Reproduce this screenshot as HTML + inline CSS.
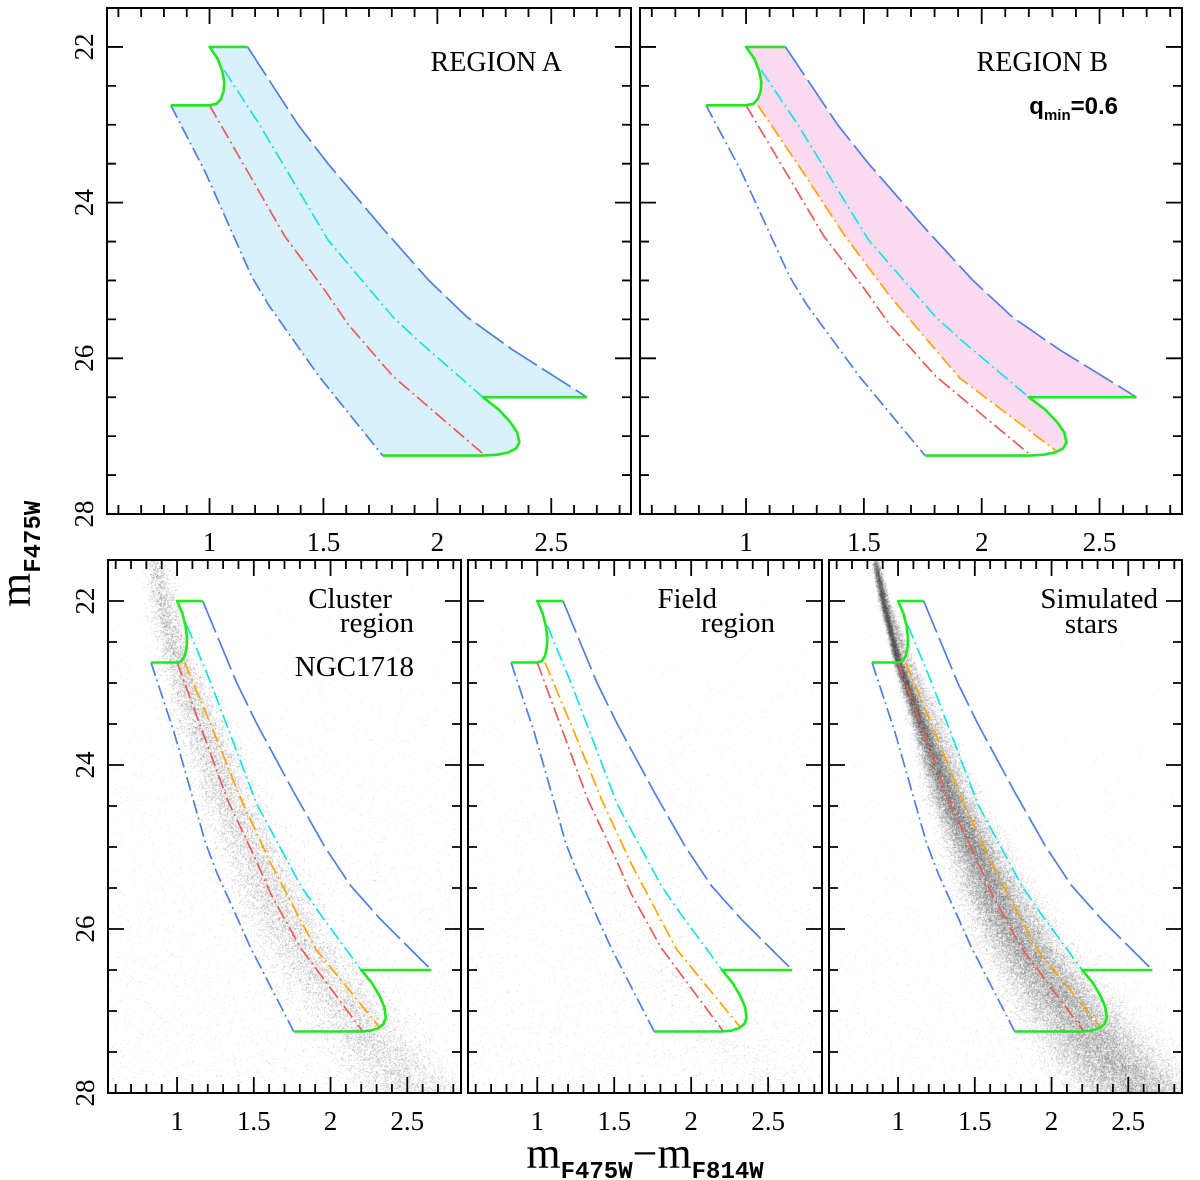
<!DOCTYPE html>
<html><head><meta charset="utf-8"><style>
html,body{margin:0;padding:0;background:#fff;}
#wrap{position:relative;width:1200px;height:1180px;overflow:hidden;}
canvas,svg{position:absolute;left:0;top:0;}
text{font-family:"Liberation Serif",serif;fill:#000;}
</style></head><body>
<div id="wrap">
<canvas id="cv" width="1200" height="1180"></canvas>
<svg id="sv" width="1200" height="1180" xmlns="http://www.w3.org/2000/svg"></svg>
</div>
<script>
// ---- data (colour, magnitude) ----
const xTicksLabels = ["1","1.5","2","2.5"];
const xTickValues = [1,1.5,2,2.5];
const yTickLabels = ["22","24","26","28"];
const yTickValues = [22,24,26,28];
const blueRightC = [1.167,1.389,1.52,1.76,1.963,2.13,2.33,2.657];
const blueRightM = [22.0,23.0,23.5,24.33,25.0,25.47,25.89,26.5];
const blueLeftC = [0.83,0.98,1.185,1.26,1.48,1.76];
const blueLeftM = [22.75,23.6,24.95,25.32,26.23,27.25];
const redC = [1.0,1.167,1.33,1.5,1.61,1.805,2.21];
const redM = [22.75,23.6,24.43,25.1,25.57,26.23,27.25];
const cyanC = [1.065,1.22,1.52,1.805,1.926,2.2];
const cyanM = [22.3,23.0,24.48,25.47,25.8,26.5];
const orangeC = [1.05,1.24,1.42,1.61,1.906,2.32];
const orangeM = [22.75,23.6,24.43,25.2,26.25,27.2];
const hookTopC = [0.83,1.0,1.03,1.05,1.062,1.065,1.055,1.035,1.0,1.167];
const hookTopM = [22.75,22.75,22.73,22.67,22.57,22.45,22.3,22.15,22.0,22.0];
const hookBotC = [1.76,2.2,2.26,2.31,2.345,2.36,2.35,2.32,2.27,2.2,2.657];
const hookBotM = [27.25,27.25,27.24,27.21,27.16,27.08,26.95,26.82,26.66,26.5,26.5];
// star-cloud ridge (cluster sequence)
const ridgeC = [0.85,0.9,0.96,1.0,1.167,1.33,1.5,1.61,1.805,2.21,2.45,2.6];
const ridgeM = [21.5,22.0,22.45,22.75,23.6,24.43,25.1,25.57,26.23,27.25,27.8,28.1];

const XMIN=0.55,XMAX=2.85,YMIN=21.5,YMAX=28;
const panels=[
 {id:"region-a",x:107,y:8,w:524,h:506,fill:"A",orange:false,yl:true},
 {id:"region-b",x:640,y:8,w:542,h:506,fill:"B",orange:true,yl:false},
 {id:"cluster",x:108,y:560,w:353,h:533,orange:true,yl:true,stars:"cluster"},
 {id:"field",x:468,y:560,w:354,h:533,orange:true,yl:false,stars:"field"},
 {id:"simulated",x:829,y:560,w:353,h:533,orange:true,yl:false,stars:"sim"}
];
const NS="http://www.w3.org/2000/svg";
const sv=document.getElementById('sv');
function el(t,a,p){const e=document.createElementNS(NS,t);for(const k in a)e.setAttribute(k,a[k]);(p||sv).appendChild(e);return e;}
function mk(p){return {X:c=>p.x+(c-XMIN)/(XMAX-XMIN)*p.w, Y:m=>p.y+(m-YMIN)/(YMAX-YMIN)*p.h};}
function pts(cs,ms,s){return cs.map((c,i)=>s.X(c).toFixed(1)+","+s.Y(ms[i]).toFixed(1)).join(" ");}
function interp(arrM,arrC,m){
  if(m<=arrM[0]){const k=(arrC[1]-arrC[0])/(arrM[1]-arrM[0]);return arrC[0]+(m-arrM[0])*k;}
  for(let i=1;i<arrM.length;i++){if(m<=arrM[i]){const t=(m-arrM[i-1])/(arrM[i]-arrM[i-1]);return arrC[i-1]+t*(arrC[i]-arrC[i-1]);}}
  const n=arrM.length;const k=(arrC[n-1]-arrC[n-2])/(arrM[n-1]-arrM[n-2]);return arrC[n-1]+(m-arrM[n-1])*k;}

// ---- star clouds (deterministic texture) ----
let seed=12345;
function rnd(){seed|=0;seed=seed+0x6D2B79F5|0;let t=Math.imul(seed^seed>>>15,1|seed);t=t+Math.imul(t^t>>>7,61|t)^t;return((t^t>>>14)>>>0)/4294967296;}
function gauss(){let u=rnd()||1e-9,v=rnd();return Math.sqrt(-2*Math.log(u))*Math.cos(2*Math.PI*v);}
const ctx=document.getElementById('cv').getContext('2d');
function drawStars(p){
  const s=mk(p);ctx.save();ctx.beginPath();ctx.rect(p.x,p.y,p.w,p.h);ctx.clip();
  function dot(c,m,a){ctx.fillStyle="rgba(70,70,70,"+a+")";ctx.fillRect(Math.round(s.X(c)),Math.round(s.Y(m)),1,1);}
  if(p.stars==="cluster"){
    for(let i=0;i<16000;i++){const m=21.5+6.6*Math.pow(rnd(),0.8);const c=interp(ridgeM,ridgeC,m)+gauss()*(0.03+0.022*(m-21.5))+(rnd()<0.2?rnd()*0.12:0);dot(c,m,0.2);}
    for(let i=0;i<2500;i++){const m=21.5+6.5*Math.pow(rnd(),0.4);dot(XMIN+rnd()*(XMAX-XMIN),m,0.16);}
  } else if(p.stars==="field"){
    for(let i=0;i<1800;i++){const m=21.5+6.5*Math.pow(rnd(),0.35);dot(XMIN+rnd()*(XMAX-XMIN),m,0.16);}
    for(let i=0;i<1000;i++){const m=24+4*Math.pow(rnd(),0.5);const c=interp(ridgeM,ridgeC,m)+gauss()*0.2;dot(c,m,0.16);}
  } else {
    for(let i=0;i<70000;i++){const m=21.5+6.6*Math.pow(rnd(),0.75);const sg=0.012+0.018*Math.pow(Math.max(m-22.5,0),1.4);const c=interp(ridgeM,ridgeC,m)+gauss()*sg+(rnd()<0.25?rnd()*0.15*Math.min(1,(m-21.5)/2):0);dot(c,m,0.16);}
    for(let i=0;i<800;i++){const m=21.5+6.5*Math.pow(rnd(),0.3);dot(XMIN+rnd()*(XMAX-XMIN),m,0.15);}
  }
  ctx.restore();
}

panels.forEach(p=>{
  if(p.stars)drawStars(p);
  const s=mk(p);
  const g=el('g',{});
  
  
  const cp=el('clipPath',{id:'cp-'+p.id},g);el('rect',{x:p.x,y:p.y,width:p.w,height:p.h},cp);
  const inner=el('g',{'clip-path':'url(#cp-'+p.id+')'},g);
  const nT=hookTopC.length;
  if(p.fill==="A"){
    const cs=[...hookTopC.slice(1,nT-1),...blueRightC,...hookBotC.slice().reverse(),...blueLeftC.slice().reverse()];
    const ms=[...hookTopM.slice(1,nT-1),...blueRightM,...hookBotM.slice().reverse(),...blueLeftM.slice().reverse()];
    const f=el('polygon',{points:pts(cs,ms,s),fill:"#d9f1fc",stroke:"none"},inner);
    
  }
  if(p.fill==="B"){
    const cs=[...hookTopC.slice(2,nT-1).reverse(),...orangeC.slice(),2.345,2.36,2.35,2.32,2.27,2.2,2.657,...blueRightC.slice().reverse()];
    const ms=[...hookTopM.slice(2,nT-1).reverse(),...orangeM.slice(),27.16,27.08,26.95,26.82,26.66,26.5,26.5,...blueRightM.slice().reverse()];
    const f=el('polygon',{points:pts(cs,ms,s),fill:"#fcdaf0",stroke:"none"},inner);
    
  }
  const lines=[
    ['blue-right-boundary',blueRightC,blueRightM,"#4f7ee6","34 6"],
    ['blue-left-boundary',blueLeftC,blueLeftM,"#4f7ee6","14 4 2 4"],
    ['red-fiducial-line',redC,redM,"#ee5a55","14 4 2 4"],
    ['cyan-equal-mass-line',cyanC,cyanM,"#16e3e6","14 4 2 4"],
  ];
  if(p.orange)lines.push(['orange-qmin-line',orangeC,orangeM,"#ffa400","14 4 2 4"]);
  lines.forEach(L=>{const l=el('polyline',{points:pts(L[1],L[2],s),fill:"none",stroke:L[3],'stroke-width':1.7,'stroke-dasharray':L[4],'stroke-linejoin':'round'},inner);
    });
  const gt=el('polyline',{points:pts(hookTopC,hookTopM,s),fill:"none",stroke:"#1ee81e",'stroke-width':2.6,'stroke-linejoin':'round'},inner);
  
  const gb=el('polyline',{points:pts(hookBotC,hookBotM,s),fill:"none",stroke:"#1ee81e",'stroke-width':2.6,'stroke-linejoin':'round'},inner);
  
  const fr=el('rect',{x:p.x,y:p.y,width:p.w,height:p.h,fill:"none",stroke:"#000",'stroke-width':2},g);
  
  let d="";
  for(let k=6;k<=28;k++){const c=k/10;const x=s.X(c);const L=(k%5===0)?16:9;
    d+=`M${x},${p.y+p.h}v${-L}M${x},${p.y}v${L}`;}
  for(let k=43;k<=56;k++){const m=k/2;const y=s.Y(m);const L=(m%2===0)?16:9;
    d+=`M${p.x},${y}h${L}M${p.x+p.w},${y}h${-L}`;}
  const tk=el('path',{d:d,stroke:"#000",'stroke-width':1.8,fill:"none"},g);
  
  xTickValues.forEach((v,i)=>{const t=el('text',{x:s.X(v),y:p.y+p.h+37,'text-anchor':'middle','font-size':27},g);t.textContent=xTicksLabels[i];
    });
  if(p.yl){yTickValues.forEach((v,i)=>{const y=s.Y(v);const t=el('text',{x:0,y:0,'text-anchor':'middle','font-size':27,transform:`translate(${p.x-14},${y}) rotate(-90)`},g);t.textContent=yTickLabels[i];
    });}
});
function txt(s,x,y,size,name,anchor){const t=el('text',{x:x,y:y,'font-size':size,'text-anchor':anchor||'start'});t.textContent=s;
  return t;}
txt("REGION  A",562,71,28,"region-a-label","end");
txt("REGION  B",1108,71,28,"region-b-label","end");
const q=el('text',{x:1118,y:114,'font-size':24,'text-anchor':'end',style:'font-family:"Liberation Sans",sans-serif;font-weight:bold'});

q.innerHTML='q<tspan font-size="15" dy="6">min</tspan><tspan dy="-6">=0.6</tspan>';
txt("Cluster",392,608,29,"cluster-label-line1","end");
txt("region",414,632,29,"cluster-label-line2","end");
txt("NGC1718",414,676,29,"ngc1718-label","end");
txt("Field",717,608,29,"field-label-line1","end");
txt("region",775,632,29,"field-label-line2","end");
txt("Simulated",1158,608,29,"simulated-label-line1","end");
txt("stars",1118,633,29,"simulated-label-line2","end");
const yt=el('text',{x:0,y:0,'font-size':44,transform:'translate(30,607) rotate(-90)'});

yt.innerHTML='m<tspan font-size="24" dy="10" font-weight="bold" style="font-family:Liberation Mono,monospace">F475W</tspan>';
const xt=el('text',{x:645,y:1168,'font-size':44,'text-anchor':'middle'});

xt.innerHTML='m<tspan font-size="24" dy="10" font-weight="bold" style="font-family:Liberation Mono,monospace">F475W</tspan><tspan dy="-10">−m</tspan><tspan font-size="24" dy="10" font-weight="bold" style="font-family:Liberation Mono,monospace">F814W</tspan>';
</script>
</body></html>
